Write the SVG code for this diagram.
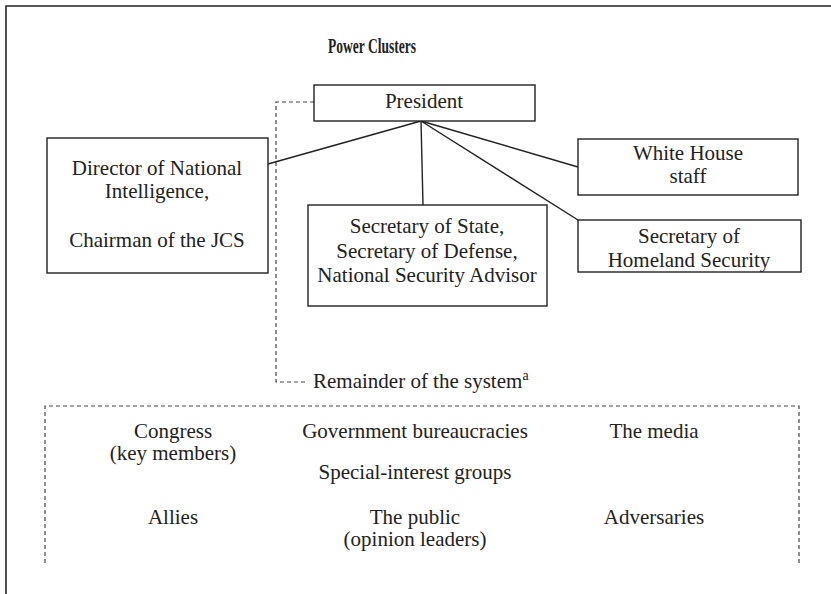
<svg xmlns="http://www.w3.org/2000/svg" width="831" height="594" viewBox="0 0 831 594">
  <style>
    text { font-family: "Liberation Serif", "Times New Roman", serif; font-size: 21px; fill: #222; text-anchor: middle; }
    .title { font-weight: bold; font-size: 21px; }
    .box { fill: #fff; stroke: #222; stroke-width: 1.4; }
    .link { fill: none; stroke: #222; stroke-width: 1.4; }
    .dash { fill: none; stroke: #444; stroke-width: 1.2; stroke-dasharray: 4 3; }
    .frame { fill: none; stroke: #222; stroke-width: 1.6; }
  </style>

  <!-- outer frame: top and left edges -->
  <path class="frame" d="M6,594 V6 H831"/>

  <text class="title" x="372" y="53" textLength="88" lengthAdjust="spacingAndGlyphs">Power Clusters</text>

  <g id="connectors">
    <line class="link" x1="421" y1="121" x2="268" y2="164"/>
    <line class="link" x1="421" y1="121" x2="423" y2="205"/>
    <line class="link" x1="421" y1="121" x2="578" y2="167"/>
    <line class="link" x1="421" y1="121" x2="578" y2="220"/>
    <path class="dash" d="M314,102 H276 V382 H308"/>
  </g>

  <g id="president">
    <rect class="box" x="314" y="85" width="221" height="36"/>
    <text x="424" y="108">President</text>
  </g>

  <g id="dni-jcs">
    <rect class="box" x="47" y="138" width="221" height="135"/>
    <text x="157" y="175">Director of National</text>
    <text x="157" y="198">Intelligence,</text>
    <text x="157" y="247">Chairman of the JCS</text>
  </g>

  <g id="state-defense-nsa">
    <rect class="box" x="308" y="205" width="239" height="101"/>
    <text x="427" y="233">Secretary of State,</text>
    <text x="427" y="258">Secretary of Defense,</text>
    <text x="427" y="282">National Security Advisor</text>
  </g>

  <g id="white-house">
    <rect class="box" x="578" y="139" width="220" height="56"/>
    <text x="688" y="160">White House</text>
    <text x="688" y="183">staff</text>
  </g>

  <g id="homeland">
    <rect class="box" x="578" y="220" width="223" height="52"/>
    <text x="689" y="243">Secretary of</text>
    <text x="689" y="267">Homeland Security</text>
  </g>

  <g id="remainder">
    <text x="313" y="388" style="text-anchor:start">Remainder of the system<tspan dy="-8" font-size="14">a</tspan></text>
    <path class="dash" d="M45,563 V406 H799 V563"/>
    <text x="173" y="438">Congress</text>
    <text x="173" y="460">(key members)</text>
    <text x="415" y="438">Government bureaucracies</text>
    <text x="654" y="438">The media</text>
    <text x="415" y="479">Special-interest groups</text>
    <text x="173" y="524">Allies</text>
    <text x="415" y="524">The public</text>
    <text x="415" y="546">(opinion leaders)</text>
    <text x="654" y="524">Adversaries</text>
  </g>
</svg>
